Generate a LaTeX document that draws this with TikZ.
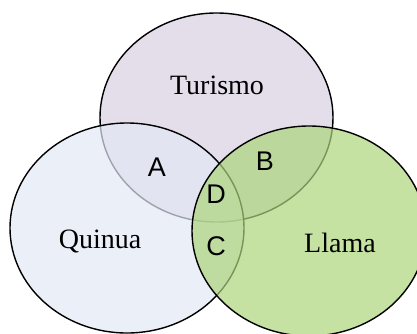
\documentclass[tikz,border=0pt]{standalone}
\usepackage{fontspec}
\setmainfont{Liberation Serif}
\newfontfamily\letterfont{Liberation Sans}
\usetikzlibrary{shapes.geometric}

\definecolor{turismofill}{RGB}{228,221,234}
\definecolor{quinuafill}{RGB}{226,232,245}
\definecolor{llamafill}{RGB}{172,213,124}

\tikzset{
  setshape/.style={ellipse, draw=black, line width=0.7pt, fill opacity=0.7,
    minimum width=117pt, minimum height=105pt, inner sep=0pt},
  setname/.style={font=\fontsize{14}{16}\selectfont},
  zone/.style={font=\letterfont\fontsize{13.5}{16}\selectfont}
}

\begin{document}
\begin{tikzpicture}[x=0.5pt, y=-0.5pt]
  \useasboundingbox (0,0) rectangle (417,333);
  \clip (0,0) rectangle (417,333);
  % the three sets
  \node[setshape, fill=turismofill, fill opacity=1, minimum width=116.5pt, minimum height=104.5pt] (turismo) at (216.5,117.5) {};
  \node[setshape, fill=quinuafill] (quinua) at (127,228) {};
  \node[setshape, fill=llamafill] (llama) at (309,231) {};
  % names
  \node[setname] (tname) at (217,85) {Turismo};
  \node[setname] (qname) at (100,241) {Quinua};
  \node[setname] (lname) at (340,243) {Llama};
  % overlaps
  \node[zone] (A) at (157,167) {A};
  \node[zone] (B) at (265,161) {B};
  \node[zone] (D) at (216,194) {D};
  \node[zone] (C) at (216,246) {C};
\end{tikzpicture}
\end{document}
